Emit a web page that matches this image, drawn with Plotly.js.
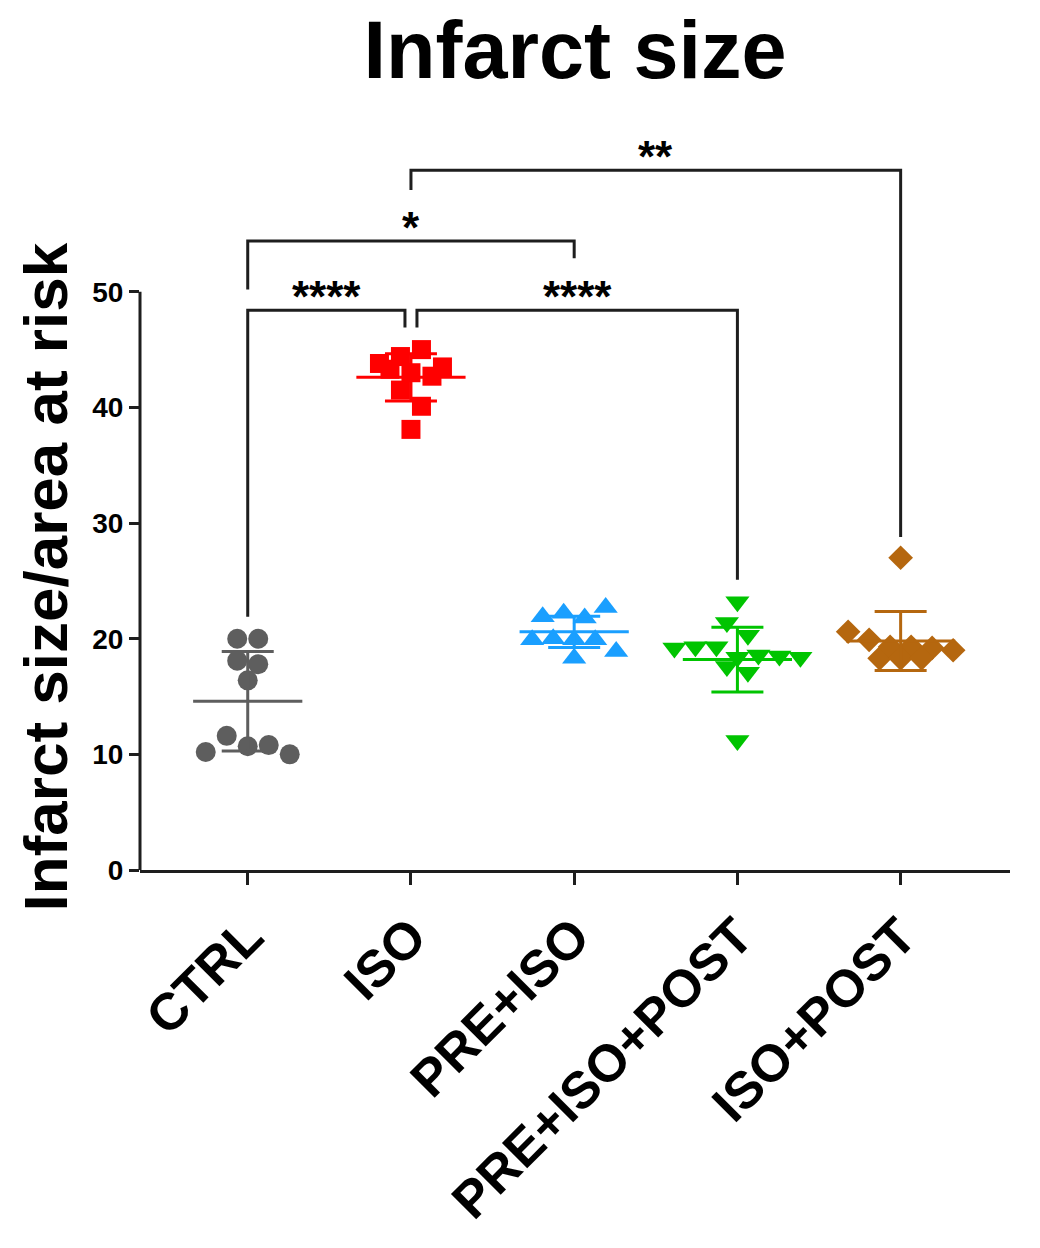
<!DOCTYPE html>
<html>
<head>
<meta charset="utf-8">
<script src="https://cdn.plot.ly/plotly-3.0.1.min.js"></script>
<style>
  html, body { margin: 0; padding: 0; background: #fff; }
</style>
</head>
<body>
<div id="chart" style="width:1040px;height:1248px"></div>
<script>
// groups on the x axis
const groups = ["CTRL", "ISO", "PRE+ISO", "PRE+ISO+POST", "ISO+POST"];
const y_ticks = [0, 10, 20, 30, 40, 50];

// one value per animal (infarct size / area at risk, %)
const ctrl_values = [20.0, 20.0, 18.1, 17.8, 16.4, 10.2, 11.6, 10.7, 10.8, 10.0];
const iso_values = [43.8, 44.4, 45.0, 43.5, 43.3, 43.0, 42.7, 41.5, 40.1, 38.1];
const pre_iso_values = [21.9, 22.2, 21.8, 22.7, 19.9, 20.0, 19.9, 19.9, 18.9, 18.3];
const pre_iso_post_values = [23.2, 21.4, 19.2, 19.3, 19.3, 20.3, 18.4, 17.6, 18.6, 17.1, 18.5, 18.4, 11.2];
const iso_post_values = [27.0, 20.6, 18.3, 19.9, 19.3, 19.3, 18.3, 19.2, 18.3, 19.0];

// mean and SD bars as drawn
const group_means = [14.6, 42.6, 20.6, 18.2, 19.8];
const group_sds = [4.3, 2.05, 1.35, 2.8, 2.55];

// significance brackets
const bracket_from = [0, 0, 1, 1];
const bracket_to = [1, 2, 3, 4];
const bracket_level = [48.4, 54.4, 48.4, 60.5];
const bracket_leg_from = [21.9, 50.2, 46.9, 58.8];
const bracket_leg_to = [46.9, 52.9, 25.1, 28.8];
const bracket_labels = ["****", "*", "****", "**"];

const group_values = [ctrl_values, iso_values, pre_iso_values, pre_iso_post_values, iso_post_values];

//
// style
//
const group_colors = ["#5e5e5e", "#ff0000", "#1a9fff", "#00c400", "#b5670f"];
const group_symbols = ["circle", "square", "triangle-up", "triangle-down", "diamond"];
const group_sizes = [20, 19, 21, 21, 19];
const font_family = "Liberation Sans, Arial, sans-serif";
const ink = "#1e1e1e";

const x_range = [-0.66, 4.67];
const y_range = [0, 62];
const plot_w = 1040 - 140 - 30;
const plot_h = 1248 - 153 - 378;
const px_per_cat = plot_w / (x_range[1] - x_range[0]);
const px_per_unit = plot_h / (y_range[1] - y_range[0]);

// Prism-like scatter: values close together share a row and spread sideways
function swarm_offsets(values, diameter) {
  let order = values.map((v, i) => i).sort((a, b) => values[b] - values[a]);
  let rows = [];
  order.forEach(i => {
    let row = rows[rows.length - 1];
    if (row && (values[row[0]] - values[i]) * px_per_unit < 0.95 * diameter) { row.push(i); }
    else { rows.push([i]); }
  });
  let offsets = new Array(values.length).fill(0);
  rows.forEach(row => {
    row.sort((a, b) => a - b);
    row.forEach((i, k) => {
      offsets[i] = (k - (row.length - 1) / 2) * diameter * 1.05 / px_per_cat;
    });
  });
  return offsets;
}

let data = [];

// points
group_values.forEach((values, g) => {
  let offsets = swarm_offsets(values, 20);
  data.push({
    x: offsets.map(o => g + o),
    y: values,
    type: "scatter",
    mode: "markers",
    hoverinfo: "skip",
    marker: {
      symbol: group_symbols[g],
      size: group_sizes[g],
      color: group_colors[g],
      line: { width: 0 }
    }
  });
});

// mean line + SD whiskers, on top of the points
group_means.forEach((m, g) => {
  data.push({
    x: [g],
    y: [m],
    type: "scatter",
    mode: "markers",
    hoverinfo: "skip",
    marker: {
      symbol: "line-ew",
      size: 78,
      color: group_colors[g],
      line: { width: 3, color: group_colors[g] }
    },
    error_y: {
      type: "data",
      array: [group_sds[g]],
      visible: true,
      width: 26,
      thickness: 3,
      color: group_colors[g]
    }
  });
});

// brackets
let shapes = [];
let annotations = [];
let gap = 6 / px_per_cat;

bracket_labels.forEach((label, b) => {
  let x0 = bracket_from[b];
  let x1 = bracket_to[b];
  // pull the ends apart where two brackets meet at the same height
  bracket_labels.forEach((other, o) => {
    if (o == b || bracket_level[o] != bracket_level[b]) return;
    if (bracket_to[o] == x0) x0 += gap;
    if (bracket_from[o] == x1) x1 -= gap;
  });
  let y = bracket_level[b];
  shapes.push({
    type: "path",
    xref: "x", yref: "y",
    path: "M " + x0 + "," + bracket_leg_from[b] +
          " L " + x0 + "," + y +
          " L " + x1 + "," + y +
          " L " + x1 + "," + bracket_leg_to[b],
    line: { color: ink, width: 3 }
  });
  annotations.push({
    xref: "x", yref: "y",
    x: (x0 + x1) / 2, y: y,
    xanchor: "center", yanchor: "bottom",
    yshift: -13,
    text: label,
    showarrow: false,
    font: { family: font_family, size: 44, weight: "bold", color: "#000" }
  });
});

// y axis line only up to the last tick
shapes.push({
  type: "line",
  xref: "paper", yref: "paper",
  x0: 0, x1: 0,
  y0: 0, y1: y_ticks[y_ticks.length - 1] / y_range[1],
  line: { color: ink, width: 3 }
});

annotations.push({
  xref: "paper", yref: "y",
  x: (45 - 140) / plot_w, y: 25.3,
  xanchor: "center", yanchor: "middle",
  textangle: -90,
  text: "Infarct size/area at risk",
  showarrow: false,
  font: { family: font_family, size: 62, weight: "bold", color: "#000" }
});

let layout = {
  width: 1040,
  height: 1248,
  margin: { l: 140, r: 30, t: 153, b: 378, pad: 0 },
  paper_bgcolor: "#ffffff",
  plot_bgcolor: "#ffffff",
  showlegend: false,
  font: { family: font_family, color: "#000" },
  title: {
    text: "Infarct size",
    font: { family: font_family, size: 81, weight: "bold", color: "#000" },
    xref: "paper", x: 0.5, xanchor: "center",
    yref: "container", y: 1 - 50 / 1248, yanchor: "middle"
  },
  xaxis: {
    range: x_range,
    tickvals: groups.map((g, i) => i),
    ticktext: groups,
    tickangle: -45,
    ticks: "outside",
    ticklen: 12,
    tickwidth: 3,
    tickcolor: ink,
    showline: true,
    linewidth: 3,
    linecolor: ink,
    showgrid: false,
    zeroline: false,
    tickfont: { family: font_family, size: 52, weight: "bold", color: "#000" }
  },
  yaxis: {
    range: y_range,
    tickvals: y_ticks,
    ticktext: y_ticks.map(String),
    ticks: "outside",
    ticklen: 10,
    tickwidth: 3,
    tickcolor: ink,
    showline: false,
    showgrid: false,
    zeroline: false,
    tickfont: { family: font_family, size: 28, weight: "bold", color: "#000" }
  },
  shapes: shapes,
  annotations: annotations
};

Plotly.newPlot("chart", data, layout, { staticPlot: true, displayModeBar: false });
</script>
</body>
</html>
